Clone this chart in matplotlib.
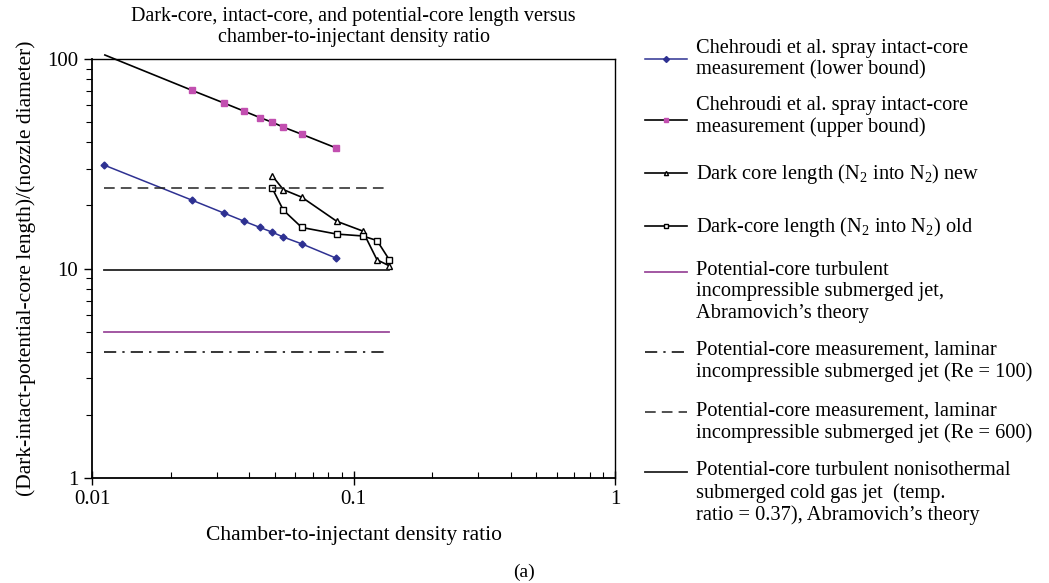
import matplotlib
matplotlib.use("Agg")
import matplotlib.pyplot as plt
from matplotlib.ticker import LogLocator, NullFormatter, FixedLocator, FixedFormatter

plt.rcParams["font.family"] = ["Liberation Serif", "DejaVu Serif"]
plt.rcParams["mathtext.fontset"] = "custom"
plt.rcParams["mathtext.rm"] = "Liberation Serif"

# Chehroudi et al. spray intact-core, lower / upper bound
lower_x = [0.0111, 0.0241, 0.0321, 0.0380, 0.0439, 0.0489, 0.0539, 0.0635, 0.0859]
lower_y = [31.2, 21.2, 18.35, 16.85, 15.7, 14.9, 14.13, 13.1, 11.2]
upper_x = [0.0112, 0.0241, 0.0321, 0.0380, 0.0439, 0.0489, 0.0539, 0.0635, 0.0859]
upper_y = [104.5, 70.9, 61.5, 56.5, 52.5, 49.9, 47.3, 43.7, 37.6]

# dark core length N2 into N2
new_x = [0.0489, 0.0539, 0.0634, 0.0863, 0.1084, 0.1230, 0.1371]
new_y = [27.7, 23.8, 21.9, 16.8, 15.1, 11.0, 10.3]
old_x = [0.0489, 0.0539, 0.0634, 0.0863, 0.1084, 0.1230, 0.1371]
old_y = [24.15, 19.0, 15.7, 14.6, 14.3, 13.6, 11.0]

# theory / reference constant lines
ref_x = [0.0111, 0.137]
abram_incomp = 5.0
laminar_re100 = 4.0
laminar_re600 = 24.1
abram_noniso = 9.8

x_ticks = [0.01, 0.1, 1]
x_tick_labels = ["0.01", "0.1", "1"]
y_ticks = [1, 10, 100]
y_tick_labels = ["1", "10", "100"]

legend_labels = [
    "Chehroudi et al. spray intact-core\nmeasurement (lower bound)",
    "Chehroudi et al. spray intact-core\nmeasurement (upper bound)",
    r"Dark core length (N$_2$ into N$_2$) new",
    r"Dark-core length (N$_2$ into N$_2$) old",
    "Potential-core turbulent\nincompressible submerged jet,\nAbramovich\u2019s theory",
    "Potential-core measurement, laminar\nincompressible submerged jet (Re = 100)",
    "Potential-core measurement, laminar\nincompressible submerged jet (Re = 600)",
    "Potential-core turbulent nonisothermal\nsubmerged cold gas jet  (temp.\nratio = 0.37), Abramovich\u2019s theory",
]

BLUE = "#2e3192"
MAGENTA = "#c24fb0"
PURPLE = "#9b4a9b"

W, H = 1049, 583
fig = plt.figure(figsize=(W / 100, H / 100), dpi=100)
ax = fig.add_axes([92 / W, 1 - 478 / H, (615 - 92) / W, (478 - 59) / H])

styles = [
    dict(color=BLUE, lw=1.1, marker="D", ms=3.5, mfc=BLUE, mec=BLUE),
    dict(color="black", lw=1.2, marker="s", ms=5, mfc=MAGENTA, mec=MAGENTA),
    dict(color="black", lw=1.2, marker="^", ms=5, mfc="white", mec="black", mew=1.0),
    dict(color="black", lw=1.2, marker="s", ms=5, mfc="white", mec="black", mew=1.0),
    dict(color=PURPLE, lw=1.3, ls="-"),
    dict(color="black", lw=1.1, ls=(0, (8, 4, 1.5, 4))),
    dict(color="#222222", lw=1.1, ls=(0, (7, 4))),
    dict(color="#222222", lw=1.3, ls="-"),
]

ax.plot(lower_x, lower_y, **styles[0])
ax.plot(upper_x, upper_y, markevery=list(range(1, len(upper_x))), clip_on=False, **styles[1])
ax.plot(new_x, new_y, **styles[2])
ax.plot(old_x, old_y, **styles[3])
ax.plot(ref_x, [abram_incomp] * 2, **styles[4])
ax.plot(ref_x, [laminar_re100] * 2, **styles[5])
ax.plot(ref_x, [laminar_re600] * 2, **styles[6])
ax.plot(ref_x, [abram_noniso] * 2, **styles[7])

ax.set_xscale("log")
ax.set_yscale("log")
ax.set_xlim(0.01, 1)
ax.set_ylim(1, 100)
ax.xaxis.set_major_locator(FixedLocator(x_ticks))
ax.xaxis.set_major_formatter(FixedFormatter(x_tick_labels))
ax.yaxis.set_major_locator(FixedLocator(y_ticks))
ax.yaxis.set_major_formatter(FixedFormatter(y_tick_labels))
ax.xaxis.set_minor_locator(LogLocator(base=10, subs=range(2, 10)))
ax.yaxis.set_minor_locator(LogLocator(base=10, subs=range(2, 10)))
ax.xaxis.set_minor_formatter(NullFormatter())
ax.yaxis.set_minor_formatter(NullFormatter())
ax.tick_params(axis="x", which="major", direction="inout", length=10, width=1.0, labelsize=15, pad=4)
ax.tick_params(axis="x", which="minor", direction="in", length=4, width=0.8)
ax.tick_params(axis="y", which="major", direction="out", length=6, width=1.0, labelsize=15, pad=4)
ax.tick_params(axis="y", which="minor", direction="out", length=4, width=0.8)
for side in ["left", "bottom"]:
    ax.spines[side].set_linewidth(1.3)
for side in ["top", "right"]:
    ax.spines[side].set_linewidth(1.0)

ax.set_title("Dark-core, intact-core, and potential-core length versus\nchamber-to-injectant density ratio",
             fontsize=14.5, pad=12, linespacing=1.2)
ax.set_xlabel("Chamber-to-injectant density ratio", fontsize=15.5, labelpad=12)
ax.set_ylabel("(Dark-intact-potential-core length)/(nozzle diameter)", fontsize=15.5, labelpad=8)
fig.text(524 / W, 1 - 572 / H, "(a)", fontsize=14, ha="center", va="center")

# legend drawn in pixel coordinates on an overlay axes
lax = fig.add_axes([0, 0, 1, 1])
lax.set_xlim(0, W)
lax.set_ylim(H, 0)
lax.axis("off")
handle_y = [58.7, 120, 173.3, 226, 271.7, 351.7, 412.3, 472.3]
text_y = [50, 106.7, 173.3, 226, 271.7, 351.7, 412.3, 472.3]
for i, label in enumerate(legend_labels):
    st = dict(styles[i])
    if "marker" in st:
        st["ms"] = 3
        st["markevery"] = [1]
        xs = [645, 666, 687]
    else:
        xs = [645, 687]
    lax.plot(xs, [handle_y[i]] * len(xs), **st)
    lax.text(696, text_y[i] - 11, label, fontsize=14.7, ha="left", va="top", linespacing=1.18)

fig.savefig("out.png", dpi=100)
